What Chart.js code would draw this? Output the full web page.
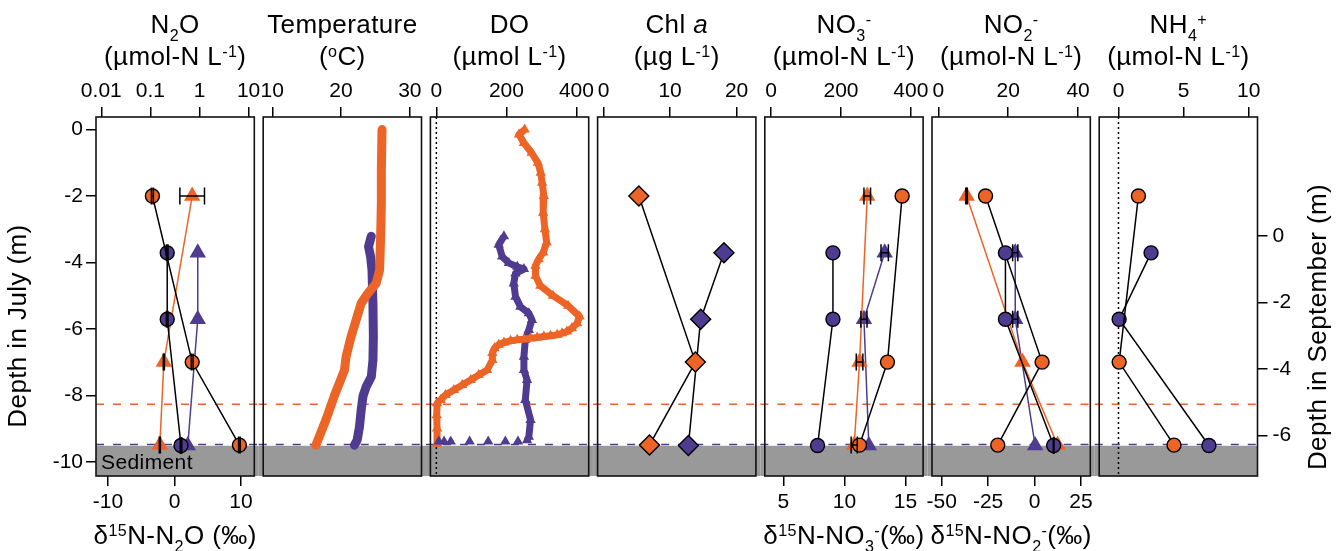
<!DOCTYPE html>
<html>
<head>
<meta charset="utf-8">
<title>Depth profiles</title>
<script src="https://cdn.jsdelivr.net/npm/chart.js@4.4.1/dist/chart.umd.min.js"></script>
<style>
html,body{margin:0;padding:0;background:#ffffff;}
#wrap{position:relative;width:1337px;height:551px;overflow:hidden;background:#fff;}
#wrap canvas{position:absolute;top:0;}
</style>
</head>
<body>
<div id="wrap"></div>
<script>
// ================= DATA =================
// discrete sampling depths (July on left axis, September on right axis)
const julyDepths = [-2, -7, -9.5];
const septDepths = [-0.5, -2.5, -6.3];

// N2O concentration (µmol-N/L) and δ15N-N2O (‰)
const n2oJuly = [0.11, 0.71, 6.5];
const n2oJulyErr = [0.005, 0.03, 0.25];
const n2oSept = [0.22, 0.22, 0.42];
const n2oSeptErr = [0.008, 0.008, 0.015];
const d15N2OJuly = [2.66, -1.6, -2.2];
const d15N2OJulyErr = [1.85, 0.08, 0.08];
const d15N2OSept = [3.5, 3.5, 2.0];

// Temperature profiles (°C)
const tempJulyDepth = [0, -1.22, -2.22, -3.22, -4.23, -4.63, -4.93, -5.23, -5.73, -6.23, -6.84, -7.24, -8.02, -8.74, -9.5];
const tempJulyVal   = [25.96, 25.86, 25.86, 25.76, 25.6, 25.1, 23.9, 22.93, 22.2, 21.46, 20.73, 20.5, 19.02, 17.8, 16.34];
const tempSeptDepth = [0, -0.31, -0.62, -1.02, -2.02, -3.02, -3.73, -4.23, -4.53, -4.81, -5.23, -5.74, -6.14, -6.29];
const tempSeptVal   = [24.4, 24.0, 24.3, 24.5, 24.64, 24.7, 24.64, 24.4, 23.66, 23.2, 22.93, 22.68, 22.34, 21.95];

// Dissolved oxygen profiles (µmol/L)
const doJulyDepth = [0, -0.15, -0.4, -0.7, -1.0, -1.3, -1.6, -2.0, -2.5, -3.0, -3.4, -3.7, -3.9, -4.1, -4.4, -4.7, -5.0, -5.3, -5.63, -5.83, -5.98, -6.08, -6.13, -6.18, -6.21, -6.23, -6.26, -6.28, -6.31, -6.33, -6.36, -6.41, -6.48, -6.58, -6.73, -6.94, -7.24, -7.39, -7.54, -7.69, -7.84, -7.99, -8.14, -8.24, -8.6, -9.0, -9.45];
const doJulyVal   = [252, 236, 250, 272, 290, 298, 302, 307, 305, 310, 315, 305, 292, 283, 283, 297, 333, 376, 409, 402, 387, 373, 359, 345, 326, 307, 288, 269, 250, 231, 212, 193, 178, 166, 160, 160, 145, 121, 98, 74, 50, 26, 12, 2, 1, 2, 2];
const doSeptDepth = [0, -0.26, -0.61, -0.81, -0.92, -0.99, -1.12, -1.42, -1.82, -2.12, -2.32, -2.52, -2.82, -3.12, -3.63, -4.03, -4.33, -4.93, -5.53, -6.04, -6.14];
const doSeptVal   = [193, 178, 188, 207, 231, 250, 226, 221, 226, 240, 264, 273, 264, 254, 250, 250, 259, 254, 269, 264, 259];
const doSeptBottomDepth = [-6.18, -6.18, -6.18, -6.18, -6.18, -6.18, -6.18];
const doSeptBottomVal   = [233, 197, 148, 95, 41, 22, 7];

// Chlorophyll a (µg/L)
const chlJuly = [5.3, 13.8, 6.9];
const chlSept = [18.1, 14.6, 12.75];

// Nitrate (µmol-N/L) and δ15N-NO3 (‰)
const no3July = [375, 333, 253];
const no3Sept = [177, 177, 133];
const d15NO3July = [11.87, 11.24, 10.8];
const d15NO3JulyErr = [0.27, 0.27, 0.25];
const d15NO3Sept = [13.3, 11.6, 12.0];
const d15NO3SeptErr = [0.3, 0.25, null];

// Nitrite (µmol-N/L) and δ15N-NO2 (‰)
const no2July = [13.5, 29.7, 17.0];
const no2Sept = [19.2, 19.2, 33.0];
const no2SeptErr = [null, null, 0.1];
const d15NO2July = [-36.6, -6.5, 12.4];
const d15NO2JulyErr = [0.4, null, null];
const d15NO2Sept = [-10.4, -10.4, 0.3];
const d15NO2SeptErr = [1.4, 1.4, null];

// Ammonium (µmol-N/L)
const nh4July = [1.53, 0.05, 4.26];
const nh4Sept = [2.5, 0.05, 6.94];

// reference depths
const sedimentTop = -9.52;       // July depth
const julyMarkDepth = -8.27;     // July depth (orange dashed)
const septMarkDepth = -6.27;     // September depth (purple dashed)

// axes
const julyAxisRange = [-10.43, 0.38];
const septOffset = 3.21;          // September depth = July depth + offset
const julyTicks = [0, -2, -4, -6, -8, -10];
const septTicks = [0, -2, -4, -6];
const topTicks = [[0.01, 0.1, 1, 10], [10, 20, 30], [0, 200, 400], [0, 10, 20], [0, 200, 400], [0, 20, 40], [0, 5, 10]];
const topRanges = [[0.0078, 13.06], [8.68, 31.7], [-17, 435], [-0.9, 22.9], [-18, 435], [-1.83, 43.5], [-1.48, 10.67]];
const bottomTicks = [[-10, 0, 10], null, null, null, [5, 10, 15], [-50, -25, 0, 25], null];
const bottomRanges = [[-11.8, 12.0], null, null, null, [3.47, 16.45], [-55.2, 30], null];

// texts
const topTitles1 = ['N_{2}O', 'Temperature', 'DO', 'Chl *a*', 'NO_{3}^{-}', 'NO_{2}^{-}', 'NH_{4}^{+}'];
const topTitles2 = ['(µmol-N L^{-1})', '(^{o}C)', '(µmol L^{-1})', '(µg L^{-1})', '(µmol-N L^{-1})', '(µmol-N L^{-1})', '(µmol-N L^{-1})'];
const bottomTitles = ['δ^{15}N-N_{2}O (‰)', null, null, null, 'δ^{15}N-NO_{3}^{-}(‰)', 'δ^{15}N-NO_{2}^{-}(‰)', null];
const leftTitle = 'Depth in July (m)';
const rightTitle = 'Depth in September (m)';
const sedimentLabel = 'Sediment';

// ================= STYLE / LAYOUT =================
const FAMILY = "'Liberation Sans', Arial, Helvetica, sans-serif";
const ORANGE = '#EC6426', PURPLE = '#4F3B8F', SED = '#999999';
const W = 1337, H = 551;
const BOX_L0 = 96, BOX_STEP = 167.2, BOX_W = 158.3, BOX_TOP = 117, BOX_BOTTOM = 476;
const GAP = BOX_STEP - BOX_W, MARGIN = 45;
const TICK_SIZE = 21, TITLE_SIZE = 26;

Chart.defaults.font.family = FAMILY;
Chart.defaults.color = '#000';

function pts(xs, ys) { return xs.map((x, k) => ({ x: x, y: ys[k] })); }

function circles(xs, ys, color, xId, yId, err) {
  return { data: pts(xs, ys), xAxisID: xId, yAxisID: yId, showLine: true, borderColor: '#000', borderWidth: 1.5,
    pointStyle: 'circle', pointRadius: 7, pointBackgroundColor: color, pointBorderColor: '#000', pointBorderWidth: 1.4, errX: err };
}
function triangles(xs, ys, color, xId, yId, err) {
  return { data: pts(xs, ys), xAxisID: xId, yAxisID: yId, showLine: true, borderColor: color, borderWidth: 1.5,
    pointStyle: 'triangle', pointRadius: 9.5, pointBackgroundColor: color, pointBorderColor: color, pointBorderWidth: 0, errX: err };
}
function diamonds(xs, ys, color, xId, yId) {
  return { data: pts(xs, ys), xAxisID: xId, yAxisID: yId, showLine: true, borderColor: '#000', borderWidth: 1.5,
    pointStyle: 'rectRot', pointRadius: 10, pointBackgroundColor: color, pointBorderColor: '#000', pointBorderWidth: 1.4 };
}
function thickLine(xs, ys, color, yId) {
  return { data: pts(xs, ys), xAxisID: 'x', yAxisID: yId, showLine: true, borderColor: color, borderWidth: 9,
    borderCapStyle: 'round', borderJoinStyle: 'round', pointRadius: 0 };
}
function triProfile(xs, ys, color, yId, withLine) {
  return { data: pts(xs, ys), xAxisID: 'x', yAxisID: yId, showLine: withLine, borderColor: color, borderWidth: 7,
    borderJoinStyle: 'round', pointStyle: 'triangle', pointRadius: 6, pointBackgroundColor: color, pointBorderColor: color, pointBorderWidth: 0 };
}

// rich text: _{sub}, ^{sup}, *italic*
function richSegments(str) {
  const out = []; const re = /_\{([^}]*)\}|\^\{([^}]*)\}|\*([^*]*)\*|([^_^*]+)/g; let m;
  while ((m = re.exec(str))) {
    if (m[1] != null) out.push({ t: m[1], k: 'sub' });
    else if (m[2] != null) out.push({ t: m[2], k: 'sup' });
    else if (m[3] != null) out.push({ t: m[3], k: 'it' });
    else out.push({ t: m[4], k: 'n' });
  }
  return out;
}
function drawRich(ctx, str, x, y, size, rot, align) {
  const segs = richSegments(str);
  const fontFor = k => (k === 'it' ? 'italic ' : '') + ((k === 'sub' || k === 'sup') ? (size * 0.62).toFixed(1) : size) + 'px ' + FAMILY;
  ctx.save();
  try { ctx.letterSpacing = '0.4px'; } catch (e) {}
  let total = 0;
  segs.forEach(s => { ctx.font = fontFor(s.k); s.w = ctx.measureText(s.t).width; total += s.w; });
  ctx.translate(x, y); if (rot) ctx.rotate(rot);
  ctx.textBaseline = 'alphabetic'; ctx.textAlign = 'left'; ctx.fillStyle = '#000';
  let cx = align === 'left' ? 0 : -total / 2;
  segs.forEach(s => {
    ctx.font = fontFor(s.k);
    const dy = s.k === 'sub' ? size * 0.3 : (s.k === 'sup' ? -size * 0.3 : 0);
    ctx.fillText(s.t, cx, dy); cx += s.w;
  });
  ctx.restore();
}

function decorPlugin(i, cL, opts) {
  return {
    id: 'decor' + i,
    beforeDatasetsDraw(chart) {
      const ctx = chart.ctx, ca = chart.chartArea, sc = chart.scales;
      const xl = i === 0 ? ca.left : ca.left - GAP / 2;
      const xr = i === 6 ? ca.right : ca.right + GAP / 2;
      ctx.save();
      const ySed = sc.y.getPixelForValue(sedimentTop);
      ctx.fillStyle = SED; ctx.fillRect(xl, ySed, xr - xl, ca.bottom - ySed);
      ctx.lineWidth = 1.5; ctx.setLineDash([8, 9]);
      let yy = sc.y.getPixelForValue(julyMarkDepth);
      ctx.strokeStyle = ORANGE; ctx.beginPath(); ctx.moveTo(xl, yy); ctx.lineTo(xr, yy); ctx.stroke();
      yy = sc.ys.getPixelForValue(septMarkDepth);
      ctx.strokeStyle = PURPLE; ctx.beginPath(); ctx.moveTo(xl, yy); ctx.lineTo(xr, yy); ctx.stroke();
      if (opts.zeroLine) {
        const x0 = sc.x.getPixelForValue(0);
        ctx.setLineDash([2, 3]); ctx.strokeStyle = '#000'; ctx.lineWidth = 1.5;
        ctx.beginPath(); ctx.moveTo(x0, ca.top); ctx.lineTo(x0, ca.bottom); ctx.stroke();
      }
      ctx.restore();
    },
    afterDatasetsDraw(chart) {
      const ctx = chart.ctx; const cap = 8.5;
      ctx.save(); ctx.strokeStyle = '#000'; ctx.lineWidth = 1.5; ctx.setLineDash([]);
      chart.data.datasets.forEach((ds, di) => {
        if (!ds.errX) return;
        const meta = chart.getDatasetMeta(di); const xs = chart.scales[ds.xAxisID];
        ds.data.forEach((p, k) => {
          const e = ds.errX[k]; if (e == null) return;
          const el = meta.data[k]; const y = el.y;
          const x1 = xs.getPixelForValue(p.x - e), x2 = xs.getPixelForValue(p.x + e);
          ctx.beginPath();
          ctx.moveTo(x1, y); ctx.lineTo(x2, y);
          ctx.moveTo(x1, y - cap); ctx.lineTo(x1, y + cap);
          ctx.moveTo(x2, y - cap); ctx.lineTo(x2, y + cap);
          ctx.stroke();
        });
      });
      ctx.restore();
    },
    afterDraw(chart) {
      const ctx = chart.ctx, ca = chart.chartArea;
      ctx.save();
      ctx.strokeStyle = '#111'; ctx.lineWidth = 1.6; ctx.setLineDash([]);
      ctx.strokeRect(ca.left, ca.top, ca.right - ca.left, ca.bottom - ca.top);
      ctx.restore();
      const cx = (ca.left + ca.right) / 2;
      drawRich(ctx, topTitles1[i], cx, 33, TITLE_SIZE, 0);
      drawRich(ctx, topTitles2[i], cx, 65, TITLE_SIZE, 0);
      if (bottomTitles[i]) drawRich(ctx, bottomTitles[i], cx, 544, TITLE_SIZE, 0);
      if (i === 0) {
        drawRich(ctx, leftTitle, 26 - cL, 326, TITLE_SIZE, -Math.PI / 2);
        drawRich(ctx, sedimentLabel, 101 - cL, 469, TICK_SIZE, 0, 'left');
      }
      if (i === 6) drawRich(ctx, rightTitle, 1326 - cL, 327, TITLE_SIZE, -Math.PI / 2);
    }
  };
}

function tickOpts(pad) {
  return { font: { family: FAMILY, size: TICK_SIZE }, color: '#000', padding: pad, autoSkip: false, maxRotation: 0, minRotation: 0, callback: v => String(v) };
}
const gridOpts = { drawOnChartArea: false, drawTicks: true, tickLength: 10, color: '#000', lineWidth: 1.5 };

function makePanel(i, datasets, opts) {
  const boxL = BOX_L0 + i * BOX_STEP, boxR = boxL + BOX_W;
  const cL = i === 0 ? 0 : Math.floor(boxL - MARGIN);
  const cR = i === 6 ? W : Math.ceil(boxR + MARGIN);
  const canvas = document.createElement('canvas');
  canvas.width = cR - cL; canvas.height = H;
  canvas.style.left = cL + 'px'; canvas.style.width = (cR - cL) + 'px'; canvas.style.height = H + 'px';
  document.getElementById('wrap').appendChild(canvas);
  const hasBottom = !!bottomTicks[i];
  const showY = i === 0, showYs = i === 6;
  const scales = {
    x: { type: i === 0 ? 'logarithmic' : 'linear', position: 'top', min: topRanges[i][0], max: topRanges[i][1],
      afterBuildTicks: s => { s.ticks = topTicks[i].map(v => ({ value: v })); },
      afterFit: s => { s.height = BOX_TOP; },
      ticks: tickOpts(3), grid: gridOpts, border: { display: false } },
    y: { type: 'linear', position: 'left', display: showY, min: julyAxisRange[0], max: julyAxisRange[1],
      afterBuildTicks: s => { s.ticks = julyTicks.map(v => ({ value: v })); },
      afterFit: s => { s.width = showY ? boxL - cL : 0; },
      ticks: tickOpts(3), grid: gridOpts, border: { display: false } },
    ys: { type: 'linear', position: 'right', display: showYs, min: julyAxisRange[0] + septOffset, max: julyAxisRange[1] + septOffset,
      afterBuildTicks: s => { s.ticks = septTicks.map(v => ({ value: v })); },
      afterFit: s => { s.width = showYs ? cR - boxR : 0; },
      ticks: tickOpts(5), grid: gridOpts, border: { display: false } }
  };
  if (hasBottom) {
    scales.xb = { type: 'linear', position: 'bottom', min: bottomRanges[i][0], max: bottomRanges[i][1],
      afterBuildTicks: s => { s.ticks = bottomTicks[i].map(v => ({ value: v })); },
      afterFit: s => { s.height = H - BOX_BOTTOM; },
      ticks: tickOpts(4), grid: gridOpts, border: { display: false } };
  }
  new Chart(canvas, {
    type: 'scatter',
    data: { datasets: datasets },
    options: {
      responsive: false, animation: false, events: [],
      layout: { padding: { left: showY ? 0 : boxL - cL, right: showYs ? 0 : cR - boxR, top: 0, bottom: hasBottom ? 0 : H - BOX_BOTTOM } },
      plugins: { legend: { display: false }, tooltip: { enabled: false } },
      elements: { line: { tension: 0 } },
      scales: scales
    },
    plugins: [decorPlugin(i, cL, opts || {})]
  });
}

// ================= PANELS =================
makePanel(0, [
  circles(n2oJuly, julyDepths, ORANGE, 'x', 'y', n2oJulyErr),
  circles(n2oSept, septDepths, PURPLE, 'x', 'ys', n2oSeptErr),
  triangles(d15N2OJuly, julyDepths, ORANGE, 'xb', 'y', d15N2OJulyErr),
  triangles(d15N2OSept, septDepths, PURPLE, 'xb', 'ys', null)
]);
makePanel(1, [
  thickLine(tempJulyVal, tempJulyDepth, ORANGE, 'y'),
  thickLine(tempSeptVal, tempSeptDepth, PURPLE, 'ys')
]);
makePanel(2, [
  triProfile(doSeptBottomVal, doSeptBottomDepth, PURPLE, 'ys', false),
  triProfile(doJulyVal, doJulyDepth, ORANGE, 'y', true),
  triProfile(doSeptVal, doSeptDepth, PURPLE, 'ys', true)
], { zeroLine: true });
makePanel(3, [
  diamonds(chlJuly, julyDepths, ORANGE, 'x', 'y'),
  diamonds(chlSept, septDepths, PURPLE, 'x', 'ys')
]);
makePanel(4, [
  circles(no3July, julyDepths, ORANGE, 'x', 'y', null),
  circles(no3Sept, septDepths, PURPLE, 'x', 'ys', null),
  triangles(d15NO3July, julyDepths, ORANGE, 'xb', 'y', d15NO3JulyErr),
  triangles(d15NO3Sept, septDepths, PURPLE, 'xb', 'ys', d15NO3SeptErr)
]);
makePanel(5, [
  circles(no2Sept, septDepths, PURPLE, 'x', 'ys', no2SeptErr),
  circles(no2July, julyDepths, ORANGE, 'x', 'y', null),
  triangles(d15NO2July, julyDepths, ORANGE, 'xb', 'y', d15NO2JulyErr),
  triangles(d15NO2Sept, septDepths, PURPLE, 'xb', 'ys', d15NO2SeptErr)
]);
makePanel(6, [
  circles(nh4July, julyDepths, ORANGE, 'x', 'y', null),
  circles(nh4Sept, septDepths, PURPLE, 'x', 'ys', null)
], { zeroLine: true });
</script>
</body>
</html>
